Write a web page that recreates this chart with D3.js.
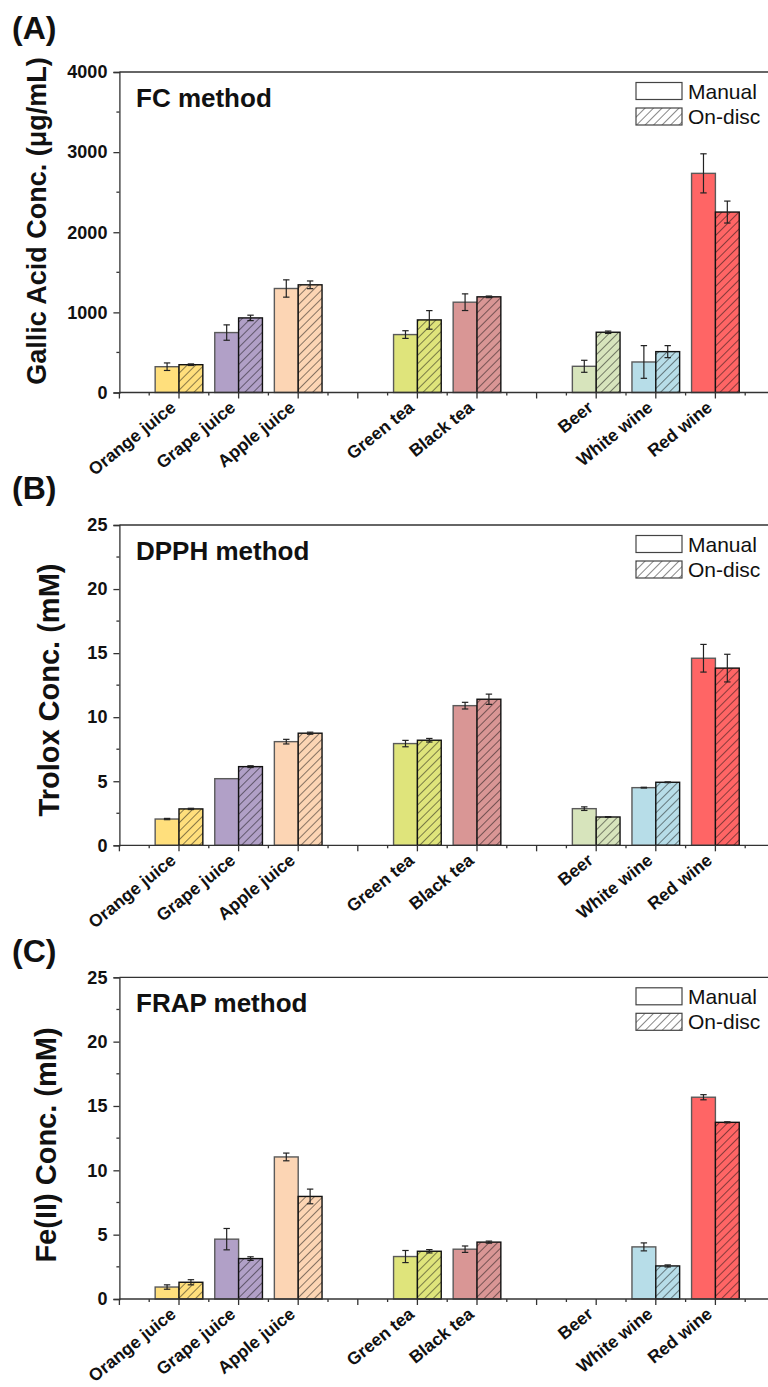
<!DOCTYPE html>
<html>
<head>
<meta charset="utf-8">
<script src="https://cdn.jsdelivr.net/npm/d3@7"></script>
<style>
  html, body { margin: 0; padding: 0; background: #fff; }
  svg { display: block; font-family: "Liberation Sans", Arial, sans-serif; }
</style>
</head>
<body>
<svg id="chart" width="768" height="1387"></svg>
<script>
// Beverage categories and their slots on the x axis (gaps separate juices / teas / alcoholic drinks)
const categories = ["Orange juice", "Grape juice", "Apple juice", "Green tea", "Black tea", "Beer", "White wine", "Red wine"];
const slots = [1, 2, 3, 5, 6, 8, 9, 10];
const fillColors = ["#FFDF7C", "#B1A0C7", "#FCD5B4", "#DFE47B", "#D99695", "#D7E4BC", "#B7DDE8", "#FF6565"];

// (A) Folin–Ciocalteu: gallic acid equivalents, µg/mL
const fcManual      = [322, 748, 1298, 723, 1127, 327, 381, 2735];
const fcManualErr   = [47, 96, 108, 48, 104, 75, 204, 244];
const fcOnDisc      = [347, 931, 1344, 906, 1194, 752, 510, 2252];
const fcOnDiscErr   = [10, 34, 48, 116, 10, 15, 75, 137];

// (B) DPPH: Trolox equivalents, mM
const dpphManual    = [2.05, 5.2, 8.09, 7.94, 10.9, 2.86, 4.5, 14.6];
const dpphManualErr = [0.05, 0, 0.18, 0.25, 0.26, 0.14, 0.03, 1.08];
const dpphOnDisc    = [2.84, 6.14, 8.75, 8.2, 11.4, 2.21, 4.92, 13.83];
const dpphOnDiscErr = [0.05, 0.07, 0.08, 0.14, 0.4, 0.03, 0.03, 1.08];

// (C) FRAP: Fe(II) equivalents, mM (no beer measurement)
const frapManual    = [0.93, 4.65, 11.04, 3.3, 3.87, null, 4.05, 15.68];
const frapManualErr = [0.17, 0.83, 0.3, 0.47, 0.25, null, 0.31, 0.2];
const frapOnDisc    = [1.3, 3.14, 7.97, 3.71, 4.42, null, 2.57, 13.73];
const frapOnDiscErr = [0.2, 0.14, 0.57, 0.13, 0.08, null, 0.08, 0.04];

// Axis ticks
const fcTicks = [0, 1000, 2000, 3000, 4000];
const mMTicks = [0, 5, 10, 15, 20, 25];

const legendLabels = ["Manual", "On-disc"];

const panels = [
  { tag: "(A)", method: "FC method", yTitle: "Gallic Acid Conc. (\u03BCg/mL)",
    manual: fcManual, manualErr: fcManualErr, onDisc: fcOnDisc, onDiscErr: fcOnDiscErr,
    ticks: fcTicks, minorStep: 500,
    top: 72, bottom: 392.5, tagY: 39, titleX: 46, titleY: 221, titleSize: 27 },
  { tag: "(B)", method: "DPPH method", yTitle: "Trolox Conc. (mM)",
    manual: dpphManual, manualErr: dpphManualErr, onDisc: dpphOnDisc, onDiscErr: dpphOnDiscErr,
    ticks: mMTicks, minorStep: 2.5,
    top: 525, bottom: 845.3, tagY: 499, titleX: 59, titleY: 690, titleSize: 29 },
  { tag: "(C)", method: "FRAP method", yTitle: "Fe(II) Conc. (mM)",
    manual: frapManual, manualErr: frapManualErr, onDisc: frapOnDisc, onDiscErr: frapOnDiscErr,
    ticks: mMTicks, minorStep: 2.5,
    top: 977.3, bottom: 1299, tagY: 962, titleX: 56, titleY: 1145, titleSize: 29 }
];

const svg = d3.select("#chart");
const defs = svg.append("defs");

// Diagonal hatch pattern for each fill colour (plus white for the legend)
function hatchId(color) { return "hatch-" + color.replace("#", ""); }
[...fillColors, "#FFFFFF"].forEach(c => {
  const p = defs.append("pattern")
    .attr("id", hatchId(c))
    .attr("patternUnits", "userSpaceOnUse")
    .attr("width", 6).attr("height", 6)
    .attr("patternTransform", "rotate(45)");
  p.append("rect").attr("width", 6).attr("height", 6).attr("fill", c);
  p.append("line").attr("x1", 0).attr("y1", 0).attr("x2", 0).attr("y2", 6)
    .attr("stroke", "#111").attr("stroke-width", 1);
});

const x = d3.scaleLinear().domain([0, 11]).range([119.4, 775]);
const barW = 0.4; // bar width in slot units

panels.forEach(pan => {
  const yMax = pan.ticks[pan.ticks.length - 1];
  const y = d3.scaleLinear().domain([0, yMax]).range([pan.bottom, pan.top]);
  const g = svg.append("g");

  // Bars
  categories.forEach((cat, i) => {
    const series = [
      { v: pan.manual[i], x0: slots[i] - barW, fill: fillColors[i], stroke: "#5a5a5a" },
      { v: pan.onDisc[i], x0: slots[i], fill: `url(#${hatchId(fillColors[i])})`, stroke: "#111" }
    ];
    series.forEach(s => {
      if (s.v == null) return;
      g.append("rect")
        .attr("x", x(s.x0)).attr("width", x(s.x0 + barW) - x(s.x0))
        .attr("y", y(s.v)).attr("height", y(0) - y(s.v))
        .attr("fill", s.fill).attr("stroke", s.stroke).attr("stroke-width", 1.4);
    });
  });

  // Error bars
  categories.forEach((cat, i) => {
    [[pan.manual[i], pan.manualErr[i], slots[i] - barW / 2],
     [pan.onDisc[i], pan.onDiscErr[i], slots[i] + barW / 2]].forEach(([v, e, cx]) => {
      if (v == null || !e) return;
      const xc = x(cx), y1 = y(v + e), y2 = y(v - e);
      g.append("line").attr("x1", xc).attr("x2", xc).attr("y1", y1).attr("y2", y2)
        .attr("stroke", "#222").attr("stroke-width", 1.2);
      [y1, y2].forEach(yy => g.append("line")
        .attr("x1", xc - 3.2).attr("x2", xc + 3.2).attr("y1", yy).attr("y2", yy)
        .attr("stroke", "#222").attr("stroke-width", 1.2));
    });
  });

  // Frame: top line
  g.append("line").attr("x1", x(0)).attr("x2", 768).attr("y1", pan.top).attr("y2", pan.top)
    .attr("stroke", "#333").attr("stroke-width", 1.3);

  // Y axis
  const yMinor = d3.range(0, yMax + 1e-9, pan.minorStep).filter(v => !pan.ticks.includes(v));
  const yAxis = g.append("g").attr("transform", `translate(${x(0)},0)`)
    .call(d3.axisLeft(y).tickValues(pan.ticks).tickSize(6).tickPadding(6).tickFormat(d3.format("d")));
  yAxis.select(".domain").attr("stroke", "#333").attr("stroke-width", 1.3);
  yAxis.selectAll(".tick line").attr("stroke", "#333").attr("stroke-width", 1.3);
  yAxis.selectAll(".tick text").attr("font-size", 18).attr("font-weight", "bold").attr("fill", "#111");
  yAxis.selectAll(".minor").data(yMinor).enter().append("line")
    .attr("x1", -3).attr("x2", 0).attr("y1", d => y(d)).attr("y2", d => y(d))
    .attr("stroke", "#333").attr("stroke-width", 1.3);

  // X axis (major ticks at every slot, minor at half slots)
  const xMajor = d3.range(0, 12);
  const xMinor = d3.range(0.5, 11, 1);
  const xAxis = g.append("g").attr("transform", `translate(0,${pan.bottom})`);
  xAxis.append("line").attr("x1", x(0)).attr("x2", 768).attr("y1", 0).attr("y2", 0)
    .attr("stroke", "#333").attr("stroke-width", 1.3);
  xAxis.selectAll(".maj").data(xMajor).enter().append("line")
    .attr("x1", d => x(d)).attr("x2", d => x(d)).attr("y1", 0).attr("y2", 6)
    .attr("stroke", "#333").attr("stroke-width", 1.3);
  xAxis.selectAll(".min").data(xMinor).enter().append("line")
    .attr("x1", d => x(d)).attr("x2", d => x(d)).attr("y1", 0).attr("y2", 3)
    .attr("stroke", "#333").attr("stroke-width", 1.3);
  xAxis.selectAll(".lab").data(categories).enter().append("text")
    .attr("transform", (d, i) => `translate(${x(slots[i]) - 2},17) rotate(-39)`)
    .attr("text-anchor", "end")
    .attr("font-size", 17.5).attr("font-weight", "bold").attr("fill", "#111")
    .text(d => d);

  // Panel tag and method name
  svg.append("text").attr("x", 12).attr("y", pan.tagY)
    .attr("font-size", 32).attr("font-weight", "bold").attr("fill", "#111").text(pan.tag);
  svg.append("text").attr("x", 136).attr("y", pan.top + 35)
    .attr("font-size", 26).attr("font-weight", "bold").attr("fill", "#111").text(pan.method);

  // Y axis title
  svg.append("text")
    .attr("transform", `translate(${pan.titleX},${pan.titleY}) rotate(-90)`)
    .attr("text-anchor", "middle")
    .attr("font-size", pan.titleSize).attr("font-weight", "bold").attr("fill", "#111")
    .text(pan.yTitle);

  // Legend
  const lg = svg.append("g").attr("transform", `translate(636,${pan.top + 10.5})`);
  legendLabels.forEach((lab, k) => {
    lg.append("rect").attr("x", 0).attr("y", k * 25.5).attr("width", 46).attr("height", 17)
      .attr("fill", k === 0 ? "#fff" : `url(#${hatchId("#FFFFFF")})`)
      .attr("stroke", "#444").attr("stroke-width", 1.2);
    lg.append("text").attr("x", 52).attr("y", k * 25.5 + 16)
      .attr("font-size", 21).attr("fill", "#111").text(lab);
  });
});
</script>
</body>
</html>
